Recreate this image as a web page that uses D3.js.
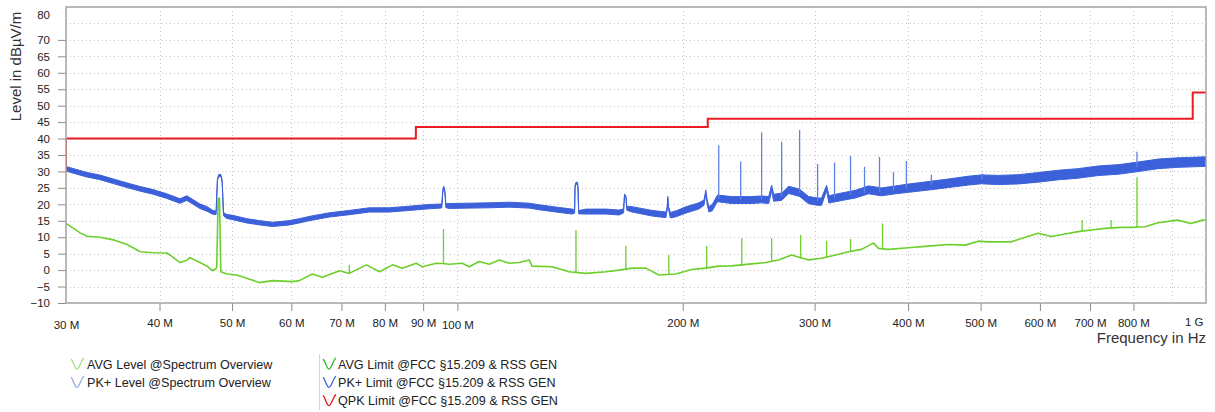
<!DOCTYPE html>
<html>
<head>
<meta charset="utf-8">
<script src="https://cdn.jsdelivr.net/npm/d3@7"></script>
<style>
  body { margin: 0; background: #fff; }
  svg { display: block; font-family: "Liberation Sans", Arial, sans-serif; }
</style>
</head>
<body>
<svg id="chart" width="1215" height="412"></svg>
<script>
// frequency in MHz, level in dBµV/m

// PK+ trace: [MHz, level, half width of the noise band]
const pkTrace = [
  [30.0, 30.8, 0.7], [32.0, 29.0, 0.7], [33.3, 28.2, 0.7], [34.7, 27.0, 0.7],
  [36.2, 25.8, 0.7], [37.7, 24.7, 0.7], [39.2, 23.8, 0.7], [40.9, 22.5, 0.7],
  [42.6, 21.0, 0.7], [43.5, 21.9, 0.7], [44.3, 20.8, 0.7], [45.3, 19.4, 0.7],
  [46.3, 18.6, 0.7], [47.1, 17.6, 0.6], [47.6, 17.4, 0.5], [47.8, 27.5, 0.3],
  [48.0, 28.8, 0.3], [48.3, 28.8, 0.3], [48.5, 27.0, 0.3], [48.7, 17.0, 0.5],
  [49.2, 16.3, 0.6], [50.1, 16.0, 0.65], [52.3, 15.0, 0.65], [54.4, 14.4, 0.65],
  [56.6, 13.9, 0.65], [59.7, 14.4, 0.65], [61.5, 15.0, 0.65], [63.5, 15.7, 0.65],
  [67.5, 16.8, 0.65], [71.7, 17.5, 0.65], [76.3, 18.3, 0.65], [81.1, 18.3, 0.65],
  [86.3, 18.8, 0.65], [91.7, 19.3, 0.65], [95.3, 19.5, 0.6], [95.6, 24.0, 0.3],
  [95.9, 25.2, 0.3], [96.2, 24.0, 0.3], [96.5, 19.6, 0.6], [97.5, 19.5, 0.75],
  [103.7, 19.6, 0.75], [110.3, 19.7, 0.75], [117.3, 19.9, 0.75], [124.7, 19.6, 0.75],
  [128.6, 19.1, 0.75], [136.7, 18.3, 0.75], [142.3, 17.8, 0.75], [143.4, 17.8, 0.5],
  [143.6, 25.5, 0.3], [144.0, 26.4, 0.3], [144.7, 26.4, 0.3], [144.9, 25.0, 0.3],
  [145.2, 17.6, 0.5], [148.5, 17.8, 0.75], [157.9, 17.8, 0.75], [164.4, 17.5, 0.75],
  [166.7, 18.0, 0.6], [167.2, 22.8, 0.3], [167.9, 22.4, 0.3], [168.4, 18.8, 0.6],
  [171.0, 18.5, 0.8], [181.9, 17.3, 0.85], [189.9, 16.8, 0.85], [190.7, 19.0, 0.4],
  [191.0, 22.1, 0.3], [191.4, 19.0, 0.4], [192.5, 16.7, 0.85], [195.8, 17.1, 0.9],
  [201.9, 18.3, 0.95], [210.1, 19.5, 0.95], [213.5, 20.5, 0.8], [214.7, 23.8, 0.5],
  [215.5, 21.0, 0.6], [216.7, 18.5, 0.8], [219.0, 19.0, 0.95], [222.5, 21.8, 1.0],
  [232.5, 21.3, 1.05], [247.2, 21.3, 1.05], [254.9, 21.5, 1.05], [260.5, 21.3, 1.05],
  [262.9, 25.0, 0.8], [264.5, 22.0, 1.05], [271.1, 22.3, 1.1], [277.0, 24.4, 1.1],
  [286.5, 23.5, 1.1], [294.5, 21.3, 1.1], [302.8, 20.8, 1.1], [306.5, 20.8, 1.1],
  [311.3, 25.0, 0.8], [313.5, 21.5, 1.1], [325.9, 22.3, 1.15], [340.2, 23.1, 1.15],
  [354.1, 24.4, 1.2], [368.5, 23.8, 1.2], [384.7, 24.4, 1.2], [400.4, 24.9, 1.25],
  [435.0, 25.9, 1.3], [452.7, 26.4, 1.3], [481.4, 27.2, 1.35], [501.0, 27.6, 1.35],
  [527.8, 27.4, 1.4], [561.2, 27.6, 1.4], [596.8, 28.2, 1.45], [634.5, 28.9, 1.45],
  [674.7, 29.4, 1.45], [717.5, 30.2, 1.45], [762.9, 30.6, 1.45], [811.2, 31.4, 1.45],
  [862.6, 32.3, 1.45], [917.0, 32.7, 1.45], [1000, 33.0, 1.45]
];

// narrow PK+ peaks: [MHz, base, top]
const pkSpikes = [
  [223.4, 21.8, 38.0], [239.0, 21.3, 33.0], [254.9, 21.5, 41.9], [271.1, 22.3, 39.0],
  [286.5, 23.5, 42.6], [302.8, 21.0, 32.3], [319.0, 22.0, 32.7], [335.1, 22.8, 34.7],
  [349.8, 23.5, 31.4], [366.3, 23.8, 34.4], [382.4, 24.2, 29.8], [397.9, 24.8, 33.2],
  [429.7, 26.0, 29.0], [502.5, 27.5, 29.4], [808.7, 31.3, 36.0]
];

// AVG trace: [MHz, level]
const avgTrace = [
  [30.0, 14.2], [31.3, 11.4], [32.0, 10.3], [33.3, 10.0], [34.7, 9.2], [36.2, 7.8],
  [37.7, 5.6], [39.2, 5.3], [40.9, 5.2], [41.3, 4.6], [42.6, 2.3], [43.5, 3.0],
  [43.9, 3.8], [45.3, 2.3], [46.3, 1.2], [47.1, -0.2], [47.6, 0.5], [47.7, 1.0],
  [47.9, 21.8], [48.1, 21.8], [48.3, -0.5], [49.2, -1.2], [50.7, -1.5], [52.3, -2.5],
  [54.4, -3.8], [56.6, -3.2], [60.2, -3.5], [61.5, -3.2], [64.0, -1.2], [66.0, -2.2],
  [69.6, -0.2], [71.7, -1.0], [75.6, 1.6], [78.7, -0.5], [81.9, 1.6], [84.4, 0.6],
  [88.1, 2.1], [89.8, 1.0], [93.7, 2.1], [95.5, 2.0], [97.5, 1.8], [101.5, 2.1],
  [103.7, 1.0], [106.9, 2.6], [110.3, 1.8], [113.7, 3.1], [117.3, 2.1], [120.9, 2.3],
  [124.7, 3.1], [125.8, 1.2], [133.8, 1.0], [141.0, -0.5], [148.5, -1.0], [157.9, -0.5],
  [164.4, 0.0], [171.0, 0.6], [178.6, 0.6], [185.8, -1.5], [195.8, -1.2], [205.6, 0.2],
  [214.7, 0.6], [223.4, 1.2], [232.5, 1.3], [247.2, 1.9], [258.1, 2.3], [268.6, 3.1],
  [279.5, 4.6], [294.5, 3.1], [306.5, 3.6], [320.0, 4.6], [333.0, 5.6], [346.6, 6.3],
  [359.6, 8.2], [365.2, 6.6], [376.5, 6.3], [400.4, 6.8], [425.7, 7.3], [452.7, 7.8],
  [476.9, 7.6], [496.4, 8.8], [511.8, 8.6], [527.8, 8.6], [549.3, 8.6], [573.4, 10.0],
  [596.8, 11.2], [621.0, 10.2], [648.3, 11.0], [674.7, 11.7], [702.2, 12.2], [733.0, 12.7],
  [770.0, 13.0], [794.0, 13.0], [828.8, 13.2], [862.6, 14.4], [917.0, 15.2], [954.4, 14.2],
  [990.4, 15.2], [1000, 15.3]
];

const avgSpikes = [
  [71.7, -1.0, 1.6], [95.8, 2.0, 12.5], [144.0, -0.7, 12.2], [167.9, 0.0, 7.3],
  [191.6, -1.2, 4.6], [215.3, 0.6, 7.3], [239.8, 1.4, 9.7], [262.9, 2.5, 9.7],
  [287.4, 3.5, 10.7], [311.3, 3.8, 8.9], [335.1, 5.6, 9.4], [369.7, 6.8, 14.2],
  [683.1, 11.8, 15.2], [746.7, 12.8, 15.2], [808.7, 13.0, 28.2]
];

// QPK limit, step after each frequency
const qpkFreq = [30, 30, 88, 216, 960, 1000];
const qpkLevel = [30, 40, 43.5, 46, 54, 54];

const yTicks = [70, 65, 60, 55, 50, 45, 40, 35, 30, 25, 20, 15, 10, 5, 0, -5, -10];
const yGrid = [75, 70, 65, 60, 55, 50, 45, 40, 35, 30, 25, 20, 15, 10, 5, 0, -5];
const xTicks = [30, 40, 50, 60, 70, 80, 90, 100, 200, 300, 400, 500, 600, 700, 800, 1000];
const xGrid = [40, 50, 60, 70, 80, 90, 100, 200, 300, 400, 500, 600, 700, 800, 900];
const xDecades = [30, 100];

const legendLeft = [
  { label: "AVG Level @Spectrum Overview", color: "#9ee27f" },
  { label: "PK+ Level @Spectrum Overview", color: "#98a9ea" }
];
const legendRight = [
  { label: "AVG Limit @FCC §15.209 & RSS GEN", color: "#2fb52a" },
  { label: "PK+ Limit @FCC §15.209 & RSS GEN", color: "#3a64e0" },
  { label: "QPK Limit @FCC §15.209 & RSS GEN", color: "#e8131b" }
];

const pkColor = "#3b60da";
const avgColor = "#6ccf2c";
const qpkColor = "#ec1c24";

const plotLeft = 66, plotRight = 1206, plotTop = 7, plotBottom = 303;

const svg = d3.select("#chart");

const x = d3.scaleLog().domain([30, 1000]).range([plotLeft, plotRight]);
const y = d3.scaleLinear().domain([-10, 80]).range([plotBottom, plotTop]);

svg.append("defs").append("clipPath").attr("id", "plot")
  .append("rect")
  .attr("x", plotLeft).attr("y", plotTop)
  .attr("width", plotRight - plotLeft).attr("height", plotBottom - plotTop);

// grid
const grid = svg.append("g")
  .attr("stroke", "#c4c4c4")
  .attr("stroke-width", 1)
  .attr("stroke-dasharray", "1,3");

grid.selectAll(".gx").data(xGrid).join("line")
  .attr("x1", (d) => Math.round(x(d)) + 0.5).attr("x2", (d) => Math.round(x(d)) + 0.5)
  .attr("y1", plotTop).attr("y2", plotBottom);

grid.selectAll(".gy").data(yGrid).join("line")
  .attr("x1", plotLeft).attr("x2", plotRight)
  .attr("y1", (d) => Math.round(y(d)) + 0.5).attr("y2", (d) => Math.round(y(d)) + 0.5);

// axes
const yAxis = svg.append("g")
  .attr("transform", `translate(${plotLeft},0)`)
  .call(d3.axisLeft(y).tickValues(yTicks).tickSize(8).tickPadding(8));

yAxis.select(".domain").remove();
yAxis.selectAll("line").attr("stroke", "#8c8c8c");
yAxis.selectAll("text").attr("font-size", 11.5).attr("fill", "#222")
  .attr("font-family", "Liberation Sans, Arial, sans-serif");

svg.append("text")
  .attr("x", 50).attr("y", 14.5).attr("dy", "0.35em")
  .attr("text-anchor", "end").attr("font-size", 11.5).attr("fill", "#222")
  .text("80");

const xAxis = svg.append("g")
  .attr("transform", `translate(0,${plotBottom})`)
  .call(
    d3.axisBottom(x)
      .tickValues(xTicks)
      .tickSize(8)
      .tickPadding(8)
      .tickFormat((d) => (d >= 1000 ? d / 1000 + " G" : d + " M"))
  );

xAxis.select(".domain").remove();
xAxis.selectAll("line").attr("stroke", "#8c8c8c");
xAxis.selectAll(".tick").filter((d) => d === 30 || d === 1000).select("line").remove();
xAxis.selectAll("text").attr("font-size", 11.5).attr("fill", "#222")
  .attr("font-family", "Liberation Sans, Arial, sans-serif");
xAxis.selectAll(".tick").filter((d) => xDecades.includes(d)).select("text").attr("dy", "0.85em");
xAxis.selectAll(".tick").filter((d) => d === 1000).select("text")
  .attr("text-anchor", "end").attr("x", -3).attr("dy", "0.65em");

// traces
const plot = svg.append("g").attr("clip-path", "url(#plot)");

plot.append("path")
  .datum(pkTrace)
  .attr("fill", pkColor)
  .attr("stroke", pkColor)
  .attr("stroke-width", 1)
  .attr("d", d3.area()
    .x((d) => x(d[0]))
    .y0((d) => y(d[1] - d[2]))
    .y1((d) => y(d[1] + d[2])));

plot.selectAll(".pkspike").data(pkSpikes).join("line")
  .attr("x1", (d) => x(d[0])).attr("x2", (d) => x(d[0]))
  .attr("y1", (d) => y(d[1])).attr("y2", (d) => y(d[2]))
  .attr("stroke", "#5f80e6").attr("stroke-width", 1.3);

plot.append("path")
  .datum(avgTrace)
  .attr("fill", "none")
  .attr("stroke", avgColor)
  .attr("stroke-width", 1.6)
  .attr("stroke-linejoin", "round")
  .attr("d", d3.line().x((d) => x(d[0])).y((d) => y(d[1])));

plot.selectAll(".avgspike").data(avgSpikes).join("line")
  .attr("x1", (d) => x(d[0])).attr("x2", (d) => x(d[0]))
  .attr("y1", (d) => y(d[1])).attr("y2", (d) => y(d[2]))
  .attr("stroke", avgColor).attr("stroke-width", 1.3);

plot.append("path")
  .datum(qpkFreq.map((f, i) => [f, qpkLevel[i]]))
  .attr("fill", "none")
  .attr("stroke", qpkColor)
  .attr("stroke-width", 2)
  .attr("d", d3.line().curve(d3.curveStepAfter).x((d) => x(d[0])).y((d) => y(d[1])));

// frame
svg.append("rect")
  .attr("x", plotLeft).attr("y", plotTop)
  .attr("width", plotRight - plotLeft).attr("height", plotBottom - plotTop)
  .attr("fill", "none").attr("stroke", "#a3a3a3").attr("stroke-width", 1.5);

// axis titles
svg.append("text")
  .attr("transform", "translate(21,66.5) rotate(-90)")
  .attr("text-anchor", "middle").attr("font-size", 15).attr("fill", "#333")
  .text("Level in dBµV/m");

svg.append("text")
  .attr("x", plotRight).attr("y", 343)
  .attr("text-anchor", "end").attr("font-size", 15).attr("fill", "#333")
  .text("Frequency in Hz");

// legend
const wave = (x0, yc) =>
  `M${x0},${yc - 5} C${x0 + 2.5},${yc - 3} ${x0 + 3.5},${yc + 5} ${x0 + 6},${yc + 5}` +
  ` C${x0 + 8.5},${yc + 5} ${x0 + 10},${yc - 4} ${x0 + 13},${yc - 6}`;

function legend(items, x0, textX) {
  const g = svg.append("g");
  const row = g.selectAll("g").data(items).join("g");
  row.append("path")
    .attr("d", (d, i) => wave(x0, 364 + i * 18.3))
    .attr("fill", "none").attr("stroke", (d) => d.color).attr("stroke-width", 1.3);
  row.append("text")
    .attr("x", textX).attr("y", (d, i) => 368.5 + i * 18.3)
    .attr("font-size", 12.6).attr("fill", "#222")
    .text((d) => d.label);
}

legend(legendLeft, 71, 87);
legend(legendRight, 323, 338);

svg.append("line")
  .attr("x1", 319.5).attr("x2", 319.5).attr("y1", 354).attr("y2", 410)
  .attr("stroke", "#d4d4d4");
</script>
</body>
</html>
